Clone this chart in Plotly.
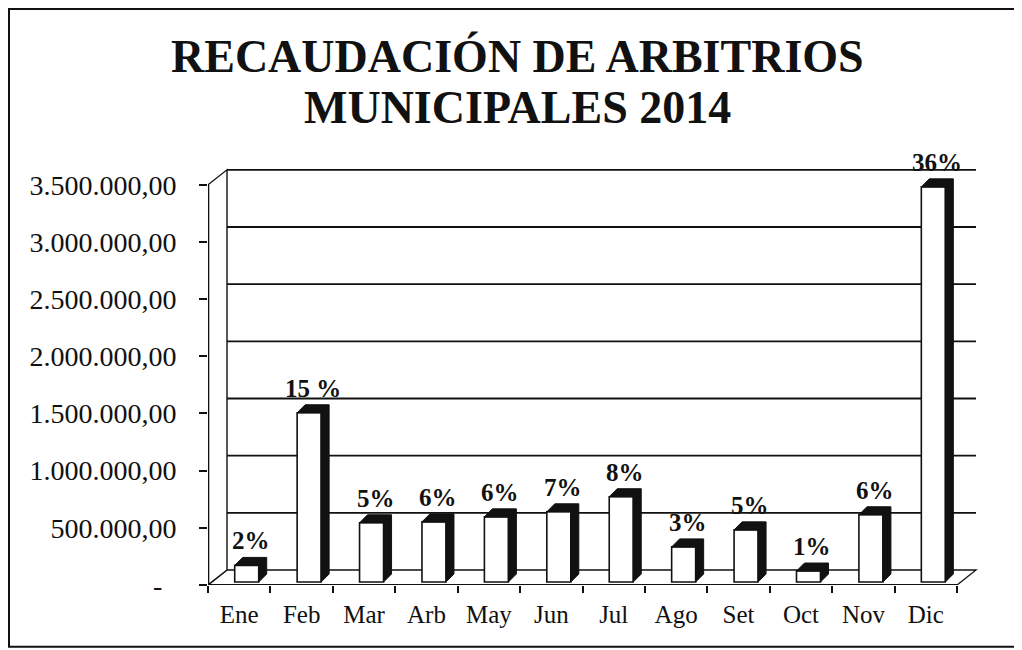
import plotly.graph_objects as go

# ---------------- data ----------------
months = ["Ene", "Feb", "Mar", "Arb", "May", "Jun", "Jul", "Ago", "Set", "Oct", "Nov", "Dic"]
recaudacion = [145000, 1480000, 518000, 526000, 570000, 614000, 746000, 307000, 456000, 96000, 588000, 3456000]
pct_labels = ["2%", "15 %", "5%", "6%", "6%", "7%", "8%", "3%", "5%", "1%", "6%", "36%"]
y_tickvals = [0, 500000, 1000000, 1500000, 2000000, 2500000, 3000000, 3500000]
y_ticktext = ["-\u00a0\u00a0", "500.000,00", "1.000.000,00", "1.500.000,00", "2.000.000,00",
              "2.500.000,00", "3.000.000,00", "3.500.000,00"]
title_lines = ["RECAUDACIÓN DE ARBITRIOS", "MUNICIPALES 2014"]

# ---------------- geometry (pixels -> data units) ----------------
# the page body has an 8px margin, so the figure origin sits at page (8, 8)
OFF = 8
W, H = 1022 - OFF, 650 - OFF
L = 208 - OFF
T = 160 - OFF
plot_bottom = 585.2 - OFF
B = H - plot_bottom
R = W - (980 - OFF)
plot_w = W - L - R
plot_h = H - T - B
UX = 62.42                      # px per category
y_max = 3.717e6
UY = plot_h / y_max             # px per unit value
x_min = -0.5
x_max = x_min + plot_w / UX

wall_dx = 19 / UX
wall_dy = 15 / UY
bar_off = -4.5 / UX
bar_w = 24 / UX
bar_dx = 8 / UX
bar_dy = 8 / UY
bar_base = 3 / UY

FONT = "Liberation Serif, Times New Roman, serif"
INK = "#111111"

n = len(months)
xs = list(range(n))
x_end = n - 0.5
top_tick = y_tickvals[-1]

fig = go.Figure()

# front faces of the 3-D columns
fig.add_trace(go.Bar(
    x=xs, y=recaudacion, base=bar_base, width=bar_w, offset=bar_off,
    marker=dict(color="white", line=dict(color=INK, width=1.6)),
    hoverinfo="skip", showlegend=False,
))

# dark top + side faces
px, py = [], []
for i, v in enumerate(recaudacion):
    x0 = i + bar_off
    x1 = x0 + bar_w
    top = bar_base + v
    pts = [(x0, top), (x0 + bar_dx, top + bar_dy), (x1 + bar_dx, top + bar_dy),
           (x1 + bar_dx, bar_base + bar_dy), (x1, bar_base), (x1, top), (x0, top)]
    px += [p[0] for p in pts] + [None]
    py += [p[1] for p in pts] + [None]
fig.add_trace(go.Scatter(
    x=px, y=py, mode="lines", fill="toself", fillcolor=INK,
    line=dict(color=INK, width=1), hoverinfo="skip", showlegend=False,
))

shapes = []
# floor
shapes.append(dict(type="path", layer="below",
                   path=f"M {x_min},0 L {x_end},0 L {x_end + wall_dx},{wall_dy} L {x_min + wall_dx},{wall_dy} Z",
                   line=dict(color=INK, width=1.3), fillcolor="white"))
# back gridlines
for v in y_tickvals[1:]:
    shapes.append(dict(type="line", layer="below",
                       x0=x_min + wall_dx, x1=x_end + wall_dx, y0=v + wall_dy, y1=v + wall_dy,
                       line=dict(color=INK, width=1.8)))
# left wall
shapes.append(dict(type="path", layer="below",
                   path=f"M {x_min},0 L {x_min},{top_tick} L {x_min + wall_dx},{top_tick + wall_dy} L {x_min + wall_dx},{wall_dy} Z",
                   line=dict(color=INK, width=1.4), fillcolor="white"))
# front axis lines
shapes.append(dict(type="line", x0=x_min, x1=x_min, y0=0, y1=top_tick, line=dict(color=INK, width=2.6)))
shapes.append(dict(type="line", x0=x_min, x1=x_end, y0=0, y1=0, line=dict(color=INK, width=2)))
# outer frame
fx0 = (1 - L) / plot_w
fx1 = (1016 - OFF - L) / plot_w
fy1 = (plot_bottom - 1) / plot_h
fy0 = (plot_bottom - (647 - OFF)) / plot_h
shapes.append(dict(type="rect", xref="paper", yref="paper", x0=fx0, x1=fx1, y0=fy0, y1=fy1,
                   line=dict(color=INK, width=2)))

annotations = []
for i, (v, t) in enumerate(zip(recaudacion, pct_labels)):
    annotations.append(dict(x=i + bar_off + bar_w / 2 + bar_dx / 2, y=bar_base + v + bar_dy,
                            text=t, showarrow=False, yanchor="bottom", yshift=1,
                            font=dict(family=FONT, size=25, color=INK, weight="bold")))
title_y = [56, 107]
for line, ty in zip(title_lines, title_y):
    annotations.append(dict(xref="paper", yref="paper", x=(517 - OFF - L) / plot_w,
                            y=(plot_bottom - (ty - OFF)) / plot_h,
                            text=f"<b>{line}</b>", showarrow=False, xanchor="center", yanchor="middle",
                            font=dict(family=FONT, size=46, color=INK)))

fig.update_layout(
    width=W, height=H,
    margin=dict(l=L, r=R, t=T, b=B, pad=0),
    paper_bgcolor="white", plot_bgcolor="white",
    shapes=shapes, annotations=annotations,
    showlegend=False,
    xaxis=dict(range=[x_min, x_max], tickvals=xs, ticktext=months, ticks="",
               showgrid=False, zeroline=False, showline=False,
               tickfont=dict(family=FONT, size=25, color=INK), ticklabelstandoff=12,
               minor=dict(tickvals=[k - 0.5 for k in range(n + 1)], ticks="outside", ticklen=7,
                          tickwidth=1.6, tickcolor=INK, showgrid=False)),
    yaxis=dict(range=[0, y_max], tickvals=y_tickvals, ticktext=y_ticktext, ticks="outside",
               ticklen=8, tickwidth=1.6, tickcolor=INK, showgrid=False, zeroline=False, showline=False,
               tickfont=dict(family=FONT, size=28, color=INK), ticklabelstandoff=17),
)

fig.write_html("out.html")
